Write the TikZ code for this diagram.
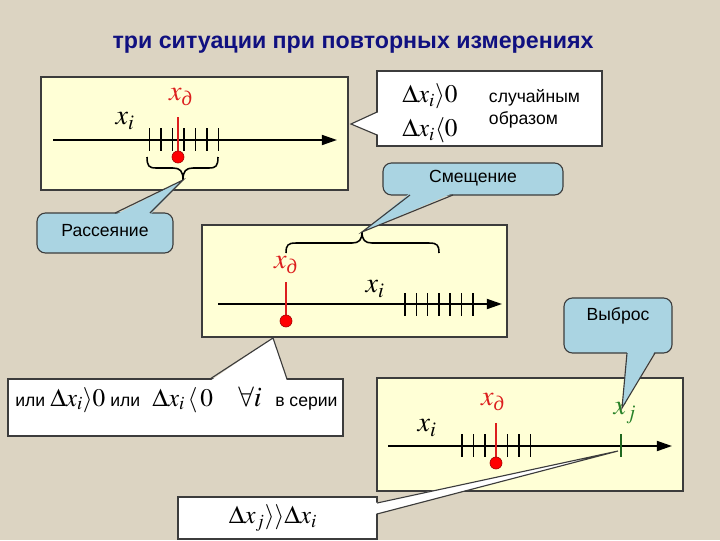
\documentclass[tikz,border=0pt]{standalone}
\usepackage{amsmath}
\usepackage{mathptmx}
\usepackage[no-math]{fontspec}
\setmainfont{Liberation Serif}
\setsansfont{Liberation Sans}
\usetikzlibrary{arrows.meta}

\definecolor{bgbeige}{RGB}{220,212,194}
\definecolor{panelyellow}{RGB}{255,255,214}
\definecolor{bubbleblue}{RGB}{170,212,226}
\definecolor{titleblue}{RGB}{16,16,128}
\definecolor{edgegray}{RGB}{60,60,60}
\definecolor{xgreen}{RGB}{40,130,40}
\definecolor{xred}{RGB}{220,30,30}

\tikzset{
  titletext/.style={font=\sffamily\bfseries\fontsize{16.5}{20}\selectfont, text=titleblue},
  panel/.style={draw=edgegray, fill=panelyellow, line width=0.8pt},
  axis/.style={line width=1.4pt, -{Triangle[length=3.8mm,width=2.5mm]}},
  tick/.style={line width=1.1pt},
  truemark/.style={xred, line width=1.1pt},
  truedot/.style={fill=red, draw=red!60!black, line width=0.4pt},
  bracestroke/.style={line width=1.1pt},
  axislabel/.style={font=\fontsize{20}{24}\selectfont},
  bluebox/.style={draw=edgegray, fill=bubbleblue, line width=0.8pt, rounded corners=6pt},
  whitebox/.style={draw=edgegray, fill=white, line width=0.8pt},
  edge/.style={draw=edgegray, line width=0.8pt},
  saytext/.style={font=\sffamily\fontsize{12.5}{15.5}\selectfont},
  mathtext/.style={font=\fontsize{18}{22}\selectfont},
  seriespart/.style={anchor=base west, inner sep=0pt}
}

\begin{document}
\begin{tikzpicture}[x=0.025cm,y=-0.025cm]

  % Background and title
  \fill[bgbeige] (0,0) rectangle (720,540);
  \useasboundingbox (0,0) rectangle (720,540);
  \node[titletext] (title) at (353,45) {три ситуации при повторных измерениях};

  % Panel 1: scatter round the true value
  \draw[panel] (41,77) rectangle (348,190);
  \coordinate (axisAstart) at (53,140);
  \coordinate (axisAend) at (337,140);
  \draw[axis] (axisAstart) -- (axisAend);
  \foreach \k in {0,...,6}
    \draw[tick] (149.5+11.5*\k,128) -- ++(0,23);
  \coordinate (trueAtop) at (178,117);
  \coordinate (trueA) at (178,157);
  \draw[truemark] (trueAtop) -- (trueA);
  \filldraw[truedot] (trueA) circle (4.3pt);
  \node[axislabel] (xiA) at (125,121) {$x_i$};
  \node[axislabel, text=xred] (xdA) at (181,97) {$x_{\textit{д}}$};
  % brace under the ticks
  \draw[bracestroke] (147,157) .. controls (147,166) and (149,168) .. (156,168)
    -- (173,168) .. controls (180,168) and (183,171) .. (183,180)
    .. controls (183,171) and (186,168) .. (193,168) -- (209,168)
    .. controls (216,168) and (218,166) .. (218,157);
  \coordinate (spreadTip) at (183,180);

  % Callout: random sign
  \coordinate (randomTip) at (351,124);
  \draw[whitebox] (377,71) rectangle (602,146);
  \fill[white] (379,112) -- (randomTip) -- (379,135) -- cycle;
  \draw[edge] (377,112) -- (randomTip) -- (377,135);
  \node[mathtext] (ineqA) at (430,96) {$\Delta x_i\rangle 0$};
  \node[mathtext] (ineqB) at (430,130) {$\Delta x_i\langle 0$};
  \node[saytext, anchor=west, align=left] (randomly) at (484,109) {случайным\\образом};

  % Callout: scatter
  \draw[bluebox] (37,213) rectangle (173,253);
  \fill[bubbleblue] (115,215) -- (spreadTip) -- (150,215) -- cycle;
  \draw[edge] (115,213) -- (spreadTip) -- (150,213);
  \node[saytext] (spread) at (105,231) {Рассеяние};

  % Panel 2: systematic offset
  \draw[panel] (202,225) rectangle (507,337);
  \coordinate (axisBstart) at (218,304);
  \coordinate (axisBend) at (502,304);
  \draw[axis] (axisBstart) -- (axisBend);
  \foreach \k in {0,...,6}
    \draw[tick] (405+11.3*\k,293) -- ++(0,23);
  \coordinate (trueBtop) at (286,282);
  \coordinate (trueB) at (286,321);
  \draw[truemark] (trueBtop) -- (trueB);
  \filldraw[truedot] (trueB) circle (4.3pt);
  \node[axislabel] (xiB) at (375,289) {$x_i$};
  \node[axislabel, text=xred] (xdB) at (286,265) {$x_{\textit{д}}$};
  % brace over true value and ticks
  \draw[bracestroke] (286,253) .. controls (286,245) and (288,243) .. (296,243)
    -- (352,243) .. controls (359,243) and (362,240) .. (362,232)
    .. controls (362,240) and (365,243) .. (372,243) -- (429,243)
    .. controls (437,243) and (439,245) .. (439,253);
  \coordinate (shiftTip) at (362,232);

  % Callout: offset
  \draw[bluebox] (383,163) rectangle (563,195);
  \fill[bubbleblue] (410,193) -- (shiftTip) -- (453,193) -- cycle;
  \draw[edge] (410,195) -- (shiftTip) -- (453,195);
  \node[saytext] (shift) at (473,178) {Смещение};

  % Callout: same sign in the whole series
  \coordinate (seriesTip) at (273,338);
  \draw[whitebox] (8,379) rectangle (343,436);
  \fill[white] (210,381) -- (seriesTip) -- (287,381) -- cycle;
  \draw[edge] (210,379) -- (seriesTip) -- (287,379);
  \node[seriespart, saytext] (orA) at (15,406) {или};
  \node[seriespart, mathtext] (geqS) at (50,406) {$\Delta x_i\rangle 0$};
  \node[seriespart, saytext] (orB) at (110,406) {или};
  \node[seriespart, mathtext] (leqS) at (152,406) {$\Delta x_i\,\langle\, 0$};
  \node[seriespart, font=\fontsize{20}{24}\selectfont] (allS) at (238,406) {$\forall i$};
  \node[seriespart, saytext] (inseries) at (275,406) {в серии};

  % Panel 3: outlier
  \draw[panel] (377,378) rectangle (683,491);
  \coordinate (axisCstart) at (388,446);
  \coordinate (axisCend) at (672,446);
  \draw[axis] (axisCstart) -- (axisCend);
  \foreach \k in {0,1,2,4,5,6}
    \draw[tick] (462+11.4*\k,434) -- ++(0,23);
  \coordinate (trueCtop) at (496,423);
  \coordinate (trueC) at (496,463);
  \draw[truemark] (trueCtop) -- (trueC);
  \filldraw[truedot] (trueC) circle (4.3pt);
  \coordinate (outTop) at (621,434);
  \coordinate (outBottom) at (621,457);
  \draw[tick, xgreen!80!black] (outTop) -- (outBottom);
  \node[axislabel] (xiC) at (427,428) {$x_i$};
  \node[axislabel, text=xred] (xdC) at (493,402) {$x_{\textit{д}}$};
  \node[axislabel, text=xgreen] (xjC) at (625,413) {$x_j$};

  % Callout: outlier
  \coordinate (outTip) at (622,408);
  \draw[bluebox] (564,298) rectangle (672,353);
  \fill[bubbleblue] (627,351) -- (outTip) -- (655,351) -- cycle;
  \draw[edge] (627,353) -- (outTip) -- (655,353);
  \node[saytext] (outlier) at (618,316) {Выброс};

  % Callout: much larger deviation
  \coordinate (jumpTip) at (618,451);
  \draw[whitebox] (178,497) rectangle (377,539);
  \fill[white] (375,503) -- (jumpTip) -- (375,514) -- cycle;
  \draw[edge] (377,503) -- (jumpTip) -- (377,514);
  \node[mathtext] (jump) at (273,518) {$\Delta x_j\rangle\rangle\Delta x_i$};

\end{tikzpicture}
\end{document}
